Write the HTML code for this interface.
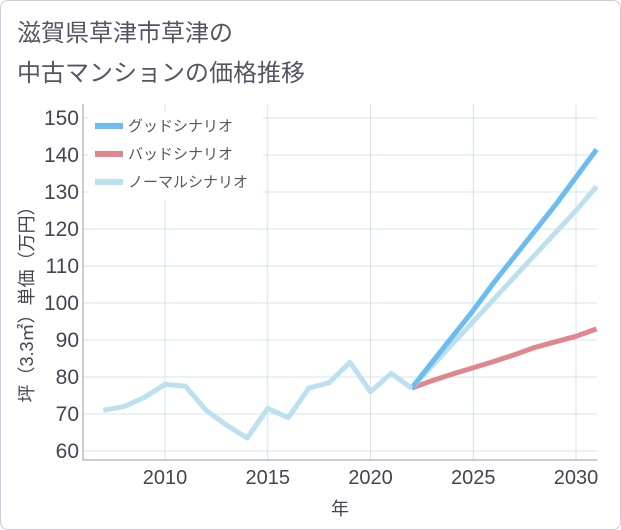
<!DOCTYPE html>
<html><head><meta charset="utf-8"><style>
body{margin:0;background:#fff;font-family:"Liberation Sans","Noto Sans CJK JP",sans-serif;}
#wrap{position:relative;width:619px;height:528px;border:1px solid #ccd;border-radius:8px;overflow:hidden;background:#fff}
.t{position:absolute;left:16px;color:#556;font-size:24px;}
</style></head><body>
<div id="wrap">
<div class="t" style="top:12px">滋賀県草津市草津の</div>
<div class="t" style="top:52px">中古マンションの価格推移</div>
<svg id="c" width="621" height="530" style="position:absolute;left:-1px;top:-1px"></svg>
</div>
<script>
const histYears=[2007,2008,2009,2010,2011,2012,2013,2014,2015,2016,2017,2018,2019,2020,2021,2022];
const histVals=[71,72,74.5,78,77.5,71,67,63.5,71.5,69,77,78.5,84,76,81,77];
const futYears=[2022,2023,2024,2025,2026,2027,2028,2029,2030,2031];
const goodVals=[77,84,91,98,105.5,112.5,119.5,126.5,134,141.5];
const badVals=[77,79,80.8,82.5,84.2,86,88,89.5,91,93];
const normVals=[77,83,89,95,101,107,113,119,125,131.5];
const yTicks=[60,70,80,90,100,110,120,130,140,150];
const xTicks=[2010,2015,2020,2025,2030];
const L=83,R=597,T=104,B=460;
const x=v=>165+(v-2010)*20.55;
const y=v=>451-(v-60)*3.7;
const s=document.getElementById('c');const NS='http://www.w3.org/2000/svg';
function el(t,a,p){const e=document.createElementNS(NS,t);for(const k in a)e.setAttribute(k,a[k]);(p||s).appendChild(e);return e;}
yTicks.forEach(v=>{const g=el('line',{x1:L,x2:R,y1:y(v),y2:y(v),stroke:'#d5e3ef','stroke-width':1});

const t=el('text',{x:L-4,y:y(v)+7,'text-anchor':'end','font-size':21,fill:'#445'});t.textContent=v;
});
xTicks.forEach(v=>{const g=el('line',{x1:x(v),x2:x(v),y1:T,y2:B,stroke:'#d5e3ef','stroke-width':1});

const t=el('text',{x:x(v),y:B+24,'text-anchor':'middle','font-size':20,fill:'#445'});t.textContent=v;
});
const ax=el('path',{d:`M${L} ${T}V${B}H${R}`,fill:'none',stroke:'#99a','stroke-width':1});

function line(xs,vs,c,n){const p=el('polyline',{points:xs.map((d,i)=>x(d)+','+y(vs[i])).join(' '),fill:'none',stroke:c,'stroke-width':5,'stroke-linejoin':'round'});
}
line(futYears,badVals,'#e0868e','bad-scenario-line');
line(futYears,normVals,'#bde0ef','normal-scenario-line');
line(futYears,goodVals,'#6bbcf0','good-scenario-line');
line(histYears,histVals,'#bde0ef','history-line');
const lg=el('rect',{x:88,y:112,width:175,height:88,fill:'#fff'});

[['グッドシナリオ','#6bbcf0'],['バッドシナリオ','#e0868e'],['ノーマルシナリオ','#bde0ef']].forEach((d,i)=>{
const yy=126+i*28;const l=el('line',{x1:95,x2:123,y1:yy,y2:yy,stroke:d[1],'stroke-width':6});

const t=el('text',{x:128,y:yy+5,'font-size':15,fill:'#556'});t.textContent=d[0];
});
const xt=el('text',{x:340,y:515,'text-anchor':'middle','font-size':18,fill:'#445'});xt.textContent='年';

const yt=el('text',{x:0,y:0,'text-anchor':'middle','font-size':18,fill:'#445',transform:'translate(33,300) rotate(-90)'});yt.textContent='坪（3.3㎡）単価（万円）';

</script></body></html>
